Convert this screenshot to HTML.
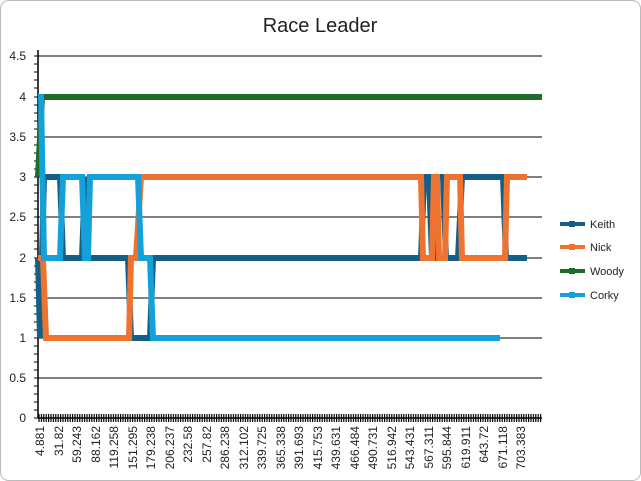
<!DOCTYPE html>
<html><head><style>body{margin:0;background:#fff}svg{display:block}</style></head><body>
<svg width="641" height="481" viewBox="0 0 641 481" xmlns="http://www.w3.org/2000/svg" font-family="Liberation Sans, sans-serif">
<rect x="0.5" y="0.5" width="640" height="480" rx="8" fill="#fff" stroke="#bbb"/>
<text x="320" y="32" text-anchor="middle" font-size="20" fill="#222">Race Leader</text>
<g stroke="#000" stroke-width="1">
<line x1="38" y1="56" x2="542" y2="56"/><line x1="38" y1="97" x2="542" y2="97"/>
<line x1="38" y1="137" x2="542" y2="137"/><line x1="38" y1="177" x2="542" y2="177"/>
<line x1="38" y1="217" x2="542" y2="217"/><line x1="38" y1="258" x2="542" y2="258"/>
<line x1="38" y1="298" x2="542" y2="298"/><line x1="38" y1="338" x2="542" y2="338"/>
<line x1="38" y1="378" x2="542" y2="378"/><line x1="38" y1="418" x2="542" y2="418" stroke-width="1.5"/>
<line x1="38" y1="50" x2="38" y2="418" stroke-width="1.5"/>
</g>
<path d="M34 56h4M34 64h4M34 72h4M34 80h4M34 88h4M34 97h4M34 105h4M34 113h4M34 121h4M34 129h4M34 137h4M34 145h4M34 153h4M34 161h4M34 169h4M34 177h4M34 185h4M34 193h4M34 201h4M34 209h4M34 217h4M34 225h4M34 233h4M34 241h4M34 249h4M34 258h4M34 266h4M34 274h4M34 282h4M34 290h4M34 298h4M34 306h4M34 314h4M34 322h4M34 330h4M34 338h4M34 346h4M34 354h4M34 362h4M34 370h4M34 378h4M34 386h4M34 394h4M34 402h4M34 410h4M34 418h4" stroke="#000"/>
<defs><pattern id="tk" width="2.4" height="8" patternUnits="userSpaceOnUse"><rect x="0" y="0" width="1.2" height="8" fill="#000"/></pattern></defs>
<rect x="38" y="414" width="504" height="8" fill="url(#tk)"/>
<g font-size="12" fill="#222" text-anchor="end">
<text x="26" y="60">4.5</text><text x="26" y="101">4</text><text x="26" y="141">3.5</text><text x="26" y="181">3</text><text x="26" y="221">2.5</text><text x="26" y="262">2</text><text x="26" y="302">1.5</text><text x="26" y="342">1</text><text x="26" y="382">0.5</text><text x="26" y="422">0</text>
</g>
<g font-size="12" fill="#222" text-anchor="end">
<text transform="translate(44,426) rotate(-90)">4.881</text><text transform="translate(63,426) rotate(-90)">31.82</text><text transform="translate(81,426) rotate(-90)">59.243</text><text transform="translate(100,426) rotate(-90)">88.162</text><text transform="translate(118,426) rotate(-90)">119.258</text><text transform="translate(137,426) rotate(-90)">151.295</text><text transform="translate(155,426) rotate(-90)">179.238</text><text transform="translate(174,426) rotate(-90)">206.237</text><text transform="translate(192,426) rotate(-90)">232.58</text><text transform="translate(211,426) rotate(-90)">257.82</text><text transform="translate(229,426) rotate(-90)">286.238</text><text transform="translate(248,426) rotate(-90)">312.102</text><text transform="translate(266,426) rotate(-90)">339.725</text><text transform="translate(285,426) rotate(-90)">365.338</text><text transform="translate(303,426) rotate(-90)">391.693</text><text transform="translate(322,426) rotate(-90)">415.753</text><text transform="translate(340,426) rotate(-90)">439.631</text><text transform="translate(359,426) rotate(-90)">466.484</text><text transform="translate(377,426) rotate(-90)">490.731</text><text transform="translate(396,426) rotate(-90)">516.942</text><text transform="translate(414,426) rotate(-90)">543.431</text><text transform="translate(433,426) rotate(-90)">567.311</text><text transform="translate(451,426) rotate(-90)">595.844</text><text transform="translate(470,426) rotate(-90)">619.911</text><text transform="translate(488,426) rotate(-90)">643.72</text><text transform="translate(507,426) rotate(-90)">671.118</text><text transform="translate(525,426) rotate(-90)">703.383</text>
</g>
<g fill="none" stroke-width="6" stroke-linejoin="miter">
<polyline stroke="#155f85" points="38,258 40,338 44,177 60,177 63,258 82,258 85,177 88,258 128,258 131,338 150,338 153,258 421,258 424,177 429,177 432,258 434,258 437,177 443,177 446,258 458,258 462,177 503,177 506,258 527,258"/>
<polyline stroke="#ef7330" points="38,258 43,258 46,338 129,338 131,258 136,258 141,177 421,177 423,258 432,258 434,177 437,177 439,258 445,258 447,177 460,177 462,258 505,258 507,177 527,177"/>
<polyline stroke="#1e6b2a" points="38,177 42,97 542,97"/>
<polyline stroke="#14a0d8" points="38,97 41,97 44,258 60,258 63,177 82,177 85,258 88,258 90,177 138,177 141,258 150,258 153,338 500,338"/>
</g>
<g stroke-width="4" font-size="11" fill="#222">
<line x1="560" y1="224" x2="585" y2="224" stroke="#155f85"/><rect x="569" y="221" width="6" height="6" fill="#155f85"/><text x="590" y="228" stroke="none">Keith</text>
<line x1="560" y1="247" x2="585" y2="247" stroke="#ef7330"/><rect x="569" y="244" width="6" height="6" fill="#ef7330"/><text x="590" y="251" stroke="none">Nick</text>
<line x1="560" y1="271" x2="585" y2="271" stroke="#1e6b2a"/><rect x="569" y="268" width="6" height="6" fill="#1e6b2a"/><text x="590" y="275" stroke="none">Woody</text>
<line x1="560" y1="295" x2="585" y2="295" stroke="#14a0d8"/><rect x="569" y="292" width="6" height="6" fill="#14a0d8"/><text x="590" y="299" stroke="none">Corky</text>
</g>
</svg>
</body></html>
